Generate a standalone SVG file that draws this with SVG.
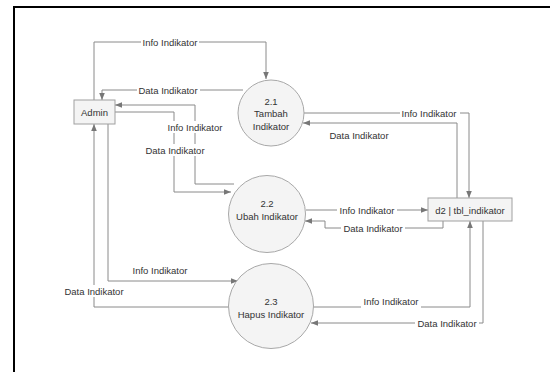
<svg xmlns="http://www.w3.org/2000/svg" width="550" height="372" viewBox="0 0 550 372">
<defs>
<style>
text{font-family:"Liberation Sans",Arial,sans-serif;font-size:9.5px;fill:#333;}
.lbl{text-anchor:middle;dominant-baseline:central;}
.c{fill:none;stroke:#8a8a8a;stroke-width:1;}
.proc{fill:#f4f4f4;stroke:#a8a8a8;stroke-width:1;}
.box{fill:#f4f4f4;stroke:#a0a0a0;stroke-width:1;}
.bg{fill:#fff;}
</style>
<marker id="ar" viewBox="0 0 10 10" refX="10" refY="5" markerWidth="7" markerHeight="7" orient="auto" markerUnits="userSpaceOnUse">
<path d="M0,1 L10,5 L0,9 z" fill="#777"/>
</marker>
</defs>
<rect x="0" y="0" width="550" height="372" fill="#fff"/>
<rect x="14" y="7" width="600" height="400" fill="#fff" stroke="#000" stroke-width="2"/>

<g id="connectors">
<!-- Admin -> 2.1 Info -->
<polyline class="c" points="94,100 94,42 266,42 266,79" marker-end="url(#ar)"/>
<!-- 2.1 -> Admin Data -->
<polyline class="c" points="243,90 102,90 102,100" marker-end="url(#ar)"/>
<!-- Admin -> 2.2 -->
<polyline class="c" points="115,112 174,112 174,192 231,192" marker-end="url(#ar)"/>
<!-- 2.2 -> Admin -->
<polyline class="c" points="234,184 195,184 195,105 115,105" marker-end="url(#ar)"/>
<!-- Admin -> 2.3 -->
<polyline class="c" points="108,124 108,281 238,281" marker-end="url(#ar)"/>
<!-- 2.3 -> Admin -->
<polyline class="c" points="229,307 94,307 94,124" marker-end="url(#ar)"/>
<!-- 2.1 -> d2 -->
<polyline class="c" points="304,113 469,113 469,198" marker-end="url(#ar)"/>
<!-- d2 -> 2.1 -->
<polyline class="c" points="457,198 457,123 303,123" marker-end="url(#ar)"/>
<!-- 2.2 -> d2 -->
<polyline class="c" points="306,210 428,210" marker-end="url(#ar)"/>
<!-- d2 -> 2.2 -->
<polyline class="c" points="443,221 443,228 325,228 325,221 305,221" marker-end="url(#ar)"/>
<!-- 2.3 -> d2 -->
<polyline class="c" points="313,307 470,307 470,221" marker-end="url(#ar)"/>
<!-- d2 -> 2.3 -->
<polyline class="c" points="483,221 483,323 311,323" marker-end="url(#ar)"/>

<rect class="bg" x="141" y="36" width="58" height="12"/>
<text class="lbl" x="170" y="42">Info Indikator</text>
<rect class="bg" x="137" y="84" width="63" height="12"/>
<text class="lbl" x="168" y="90">Data Indikator</text>
<rect class="bg" x="165" y="121" width="60" height="12"/>
<text class="lbl" x="195" y="127">Info Indikator</text>
<rect class="bg" x="143" y="144" width="63" height="12"/>
<text class="lbl" x="175" y="150">Data Indikator</text>
<text class="lbl" x="160" y="270">Info Indikator</text>
<rect class="bg" x="62" y="285" width="63" height="12"/>
<text class="lbl" x="94" y="291">Data Indikator</text>
<rect class="bg" x="400" y="107" width="60" height="12"/>
<text class="lbl" x="429" y="113">Info Indikator</text>
<text class="lbl" x="359" y="135">Data Indikator</text>
<rect class="bg" x="337" y="204" width="60" height="12"/>
<text class="lbl" x="367" y="210">Info Indikator</text>
<rect class="bg" x="341" y="222" width="64" height="12"/>
<text class="lbl" x="373" y="228">Data Indikator</text>
<rect class="bg" x="361" y="296" width="60" height="12"/>
<text class="lbl" x="391" y="301">Info Indikator</text>
<rect class="bg" x="415" y="317" width="64" height="12"/>
<text class="lbl" x="447" y="323">Data Indikator</text>
</g>

<g id="admin">
<rect class="box" x="74" y="100" width="41" height="24"/>
<text class="lbl" x="94.5" y="112">Admin</text>
</g>
<g id="p21">
<circle class="proc" cx="271" cy="113" r="33"/>
<text class="lbl" x="271" y="101">2.1</text>
<text class="lbl" x="271" y="113">Tambah</text>
<text class="lbl" x="271" y="126">Indikator</text>
</g>
<g id="p22">
<circle class="proc" cx="267" cy="214" r="38.5"/>
<text class="lbl" x="267" y="203">2.2</text>
<text class="lbl" x="267" y="216">Ubah Indikator</text>
</g>
<g id="p23">
<circle class="proc" cx="271" cy="306" r="42.5"/>
<text class="lbl" x="271" y="301">2.3</text>
<text class="lbl" x="271" y="314">Hapus Indikator</text>
</g>
<g id="d2">
<rect class="box" x="428" y="198" width="84" height="23"/>
<text class="lbl" x="470" y="210">d2 | tbl_indikator</text>
</g>
</svg>
